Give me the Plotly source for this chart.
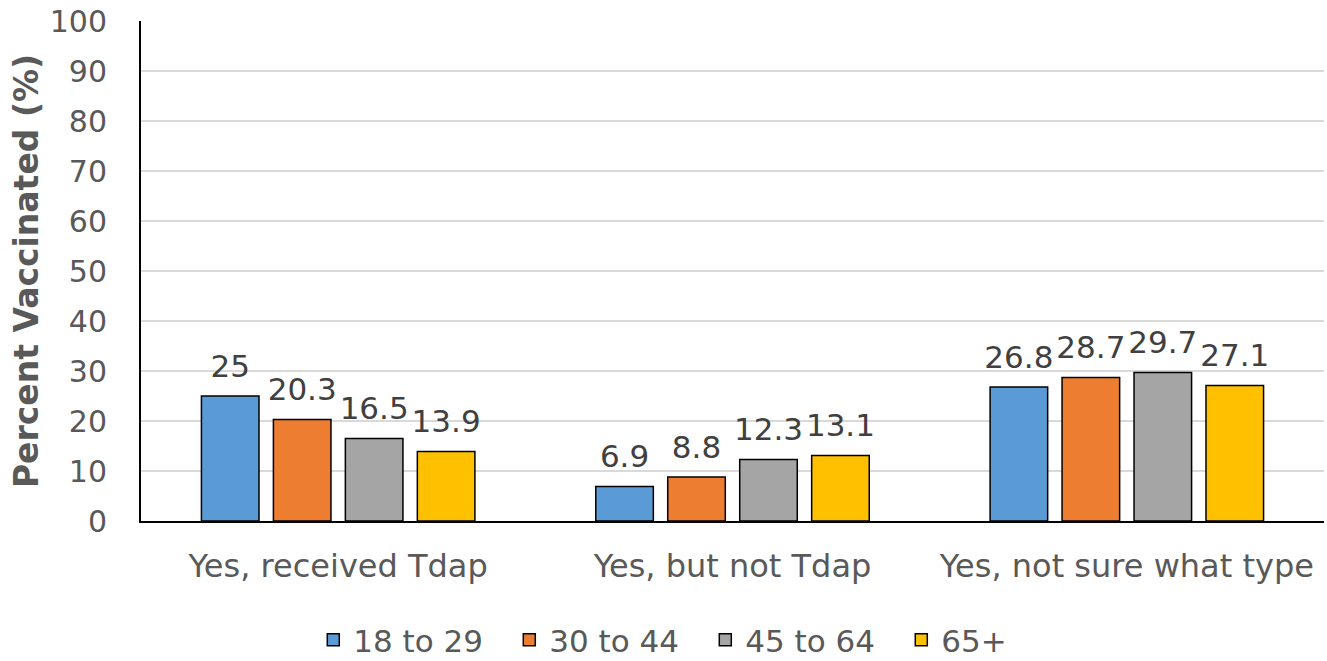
import plotly.graph_objects as go

categories = ["Yes, received Tdap", "Yes, but not Tdap", "Yes, not sure what type"]
age_groups = ["18 to 29", "30 to 44", "45 to 64", "65+"]
values = {
    "18 to 29": [25, 6.9, 26.8],
    "30 to 44": [20.3, 8.8, 28.7],
    "45 to 64": [16.5, 12.3, 29.7],
    "65+": [13.9, 13.1, 27.1],
}
colors = ["#5B9BD5", "#ED7D31", "#A5A5A5", "#FFC000"]

fig = go.Figure()
for name, col in zip(age_groups, colors):
    fig.add_trace(go.Bar(
        x=categories,
        y=values[name],
        name=name,
        offsetgroup=name,
        marker=dict(color=col, line=dict(color="black", width=1.5)),
    ))

# value labels as text-only scatter, grouped like the bars, lifted a bit above the bar tops
for name in age_groups:
    fig.add_trace(go.Scatter(
        x=categories,
        y=values[name],
        offsetgroup=name,
        mode="markers+text",
        marker=dict(size=17, opacity=0),
        text=[f"{v:g}" for v in values[name]],
        textposition="top center",
        textfont=dict(size=31, color="#404040", family="DejaVu Sans"),
        showlegend=False,
        hoverinfo="skip",
        cliponaxis=False,
    ))

fig.update_layout(
    barmode="group",
    bargap=0.27,
    bargroupgap=0.2,
    scattermode="group",
    scattergap=0.27,
    width=1327,
    height=661,
    margin=dict(l=141, r=3, t=21, b=140, autoexpand=False),
    plot_bgcolor="white",
    paper_bgcolor="white",
    font=dict(family="DejaVu Sans", size=30, color="#595959"),
    legend=dict(
        orientation="h",
        x=0.477, xanchor="center",
        y=-0.238, yanchor="middle",
        font=dict(size=31, color="#595959"),
        itemwidth=30,
        entrywidth=151,
    ),
    showlegend=True,
)

fig.update_yaxes(
    range=[0, 100],
    dtick=10,
    showgrid=True,
    gridcolor="#D9D9D9",
    gridwidth=1.5,
    showline=True,
    linecolor="black",
    linewidth=2,
    zeroline=False,
    ticks="",
    automargin=False,
    ticklabelstandoff=26,
    title=dict(text="<b>Percent Vaccinated (%)</b>", font=dict(size=33, color="#595959"), standoff=1),
)
fig.update_xaxes(
    showline=True,
    linecolor="black",
    linewidth=2,
    ticks="",
    automargin=False,
    tickfont=dict(size=32, color="#595959"),
    ticklabelstandoff=16,
)

fig.write_html("out.html", config={"displayModeBar": False},
               post_script="document.body.style.margin='0';document.body.style.overflow='hidden';")
